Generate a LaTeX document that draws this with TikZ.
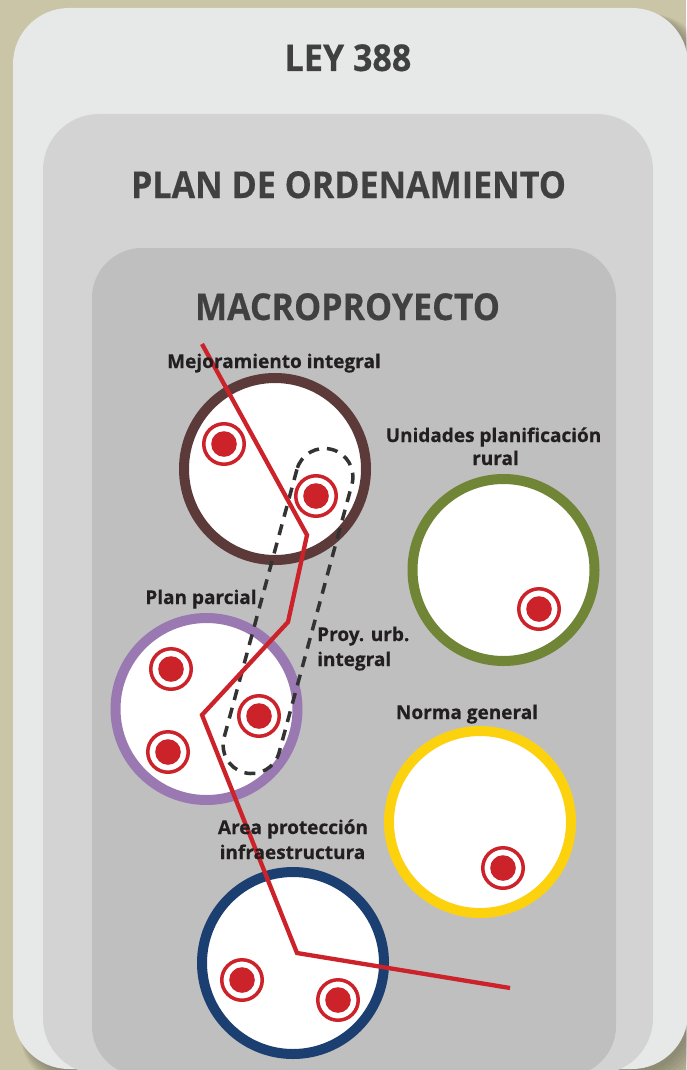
\documentclass[tikz,border=0pt]{standalone}
\usepackage{fontspec}
\setmainfont{Open Sans}[FakeStretch=0.92, FakeBold=0.4]
\newfontfamily\labfont{Open Sans}[FakeBold=0.5]
\definecolor{bgc}{HTML}{C9C5A6}
\definecolor{box1}{HTML}{E7E8E8}
\definecolor{box2}{HTML}{D3D3D3}
\definecolor{box3}{HTML}{BFBFBF}
\definecolor{titlec}{HTML}{404040}
\definecolor{labc}{HTML}{231F20}
\definecolor{redc}{HTML}{CC2229}
\definecolor{brownc}{HTML}{5B3A39}
\definecolor{olivec}{HTML}{708536}
\definecolor{purplec}{HTML}{9A78B1}
\definecolor{yellowc}{HTML}{FCD20F}
\definecolor{navyc}{HTML}{1C3F71}
\definecolor{dashc}{HTML}{333333}
\begin{document}
\begin{tikzpicture}[x=1pt,y=-1pt,
  title/.style={font=\fontsize{37}{40}\selectfont\bfseries, text=titlec, anchor=base, inner sep=0pt},
  lab/.style={font=\labfont\fontsize{19}{22}\selectfont\bfseries, text=labc, anchor=base, inner sep=0pt},
  ring/.style={circle, line width=10pt, fill=white, minimum size=182pt, inner sep=0pt},
  target/.style={circle, draw=redc, line width=3.5pt, fill=white, minimum size=40.5pt, inner sep=0pt,
    path picture={\fill[redc] (path picture bounding box.center) circle[radius=12.8pt];}},
  redline/.style={draw=redc, line width=4.3pt},
  dashline/.style={draw=dashc, line width=3.5pt, dash pattern=on 11pt off 8pt}]
\useasboundingbox (0,0) rectangle (686,1070);
% background and shadow (right and bottom only)
\fill[bgc] (0,0) rectangle (686,1070);
\foreach \i in {1,...,8}{
  \fill[black, opacity=0.04, rounded corners=60pt] (20,14) rectangle (688+2+\i*2.4,1070+2+\i*2.4);
}
% nested boxes
\fill[box1, rounded corners=56pt] (13,8) rectangle (688,1069);
\fill[box2, rounded corners=56pt] (43,114) rectangle (653,1074);
\fill[box3, rounded corners=50pt] (92,248) rectangle (616,1076);
% titles
\node[title] (ley) at (348,71) {LEY 388};
\node[title] (pot) at (348.5,198) {PLAN DE ORDENAMIENTO};
\node[title] (macro) at (347.5,320) {MACROPROYECTO};
% circles
\node[ring, draw=brownc] (mej) at (275,469) {};
\node[ring, draw=olivec] (upr) at (503.5,570) {};
\node[ring, draw=purplec] (pp) at (206.5,709) {};
\node[ring, draw=yellowc] (ng) at (480,822) {};
\node[ring, draw=navyc] (api) at (293,963) {};
% targets
\node[target] (m1) at (224,444) {};
\node[target] (m2) at (316,496) {};
\node[target] (u1) at (539,609) {};
\node[target] (p1) at (171,669) {};
\node[target] (p2) at (168,752) {};
\node[target] (p3) at (259,716) {};
\node[target] (n1) at (503,868) {};
\node[target] (a1) at (242,980) {};
\node[target] (a2) at (338,1000) {};
% dashed capsule (Proy. urb. integral)
\begin{scope}[shift={(288,611)}, rotate=-15.2]
  \draw[dashline, rounded corners=28.4pt] (-28.5,-167.4) rectangle (28.5,167.4);
\end{scope}
% red line
\coordinate (r1) at (202,344);
\coordinate (r2) at (307,535);
\coordinate (r3) at (288,622);
\coordinate (r4) at (202,715);
\coordinate (r5) at (297,953);
\coordinate (r6) at (510,988);
\draw[redline] (r1) -- (r2) -- (r3) -- (r4) -- (r5) -- (r6);
% labels
\node[lab] (lmej) at (274,368) {Mejoramiento integral};
\node[lab] (lupr1) at (493.5,442) {Unidades planificación};
\node[lab] (lupr2) at (495.5,465) {rural};
\node[lab] (lpp) at (201,604) {Plan parcial};
\node[lab, anchor=base west] (lpu1) at (317,641) {Proy. urb.};
\node[lab, anchor=base west] (lpu2) at (317,666) {integral};
\node[lab] (lng) at (467,719) {Norma general};
\node[lab] (lapi1) at (293,834) {Area protección};
\node[lab] (lapi2) at (292.5,859) {infraestructura};
\end{tikzpicture}
\end{document}
